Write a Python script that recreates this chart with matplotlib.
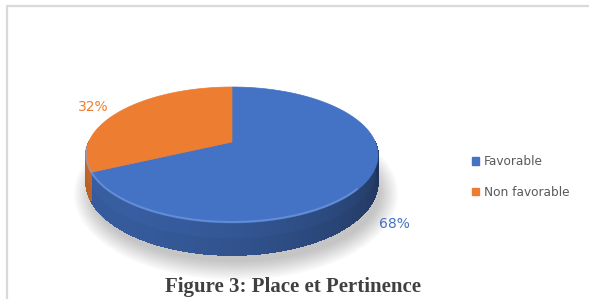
import numpy as np
import matplotlib.pyplot as plt
from matplotlib.patches import Polygon, Ellipse, Patch
from matplotlib.collections import PolyCollection
from matplotlib.colors import to_rgb

labels = ['Favorable', 'Non favorable']
values = [68, 32]
pct_labels = ['68%', '32%']
colors = ['#4472C4', '#ED7D31']

W, H = 589, 299
fig = plt.figure(figsize=(W / 100, H / 100), dpi=100)
ax = fig.add_axes([0, 0, 1, 1])
ax.set_xlim(0, W)
ax.set_ylim(H, 0)
ax.axis('off')

# light frame of the chart area (left and top edges only are visible)
ax.plot([7, 7, W + 5], [H + 5, 6, 6], color='#d9d9d9', lw=1.6, zorder=0)

# geometry of the tilted pie, in pixels
cx, cy = 232, 142        # projected centre of the pie
A, B, P = 143.3, 65.5, 0.191   # radii and perspective strength
T = 26                   # thickness


def proj(phi, dz=0.0):
    s = 1.0 / (1 + P * np.sin(phi))
    return cx + A * np.cos(phi) * s, cy - B * np.sin(phi) * s + dz * s


# soft shadow under the pie
for k in range(10):
    ax.add_patch(Ellipse((236, 194), 288 + 4 * k, 136 + 4 * k,
                         color='#000000', alpha=0.022, lw=0, zorder=1))

# slices start at 12 o'clock and run clockwise
frac = np.array(values) / sum(values)
edges = np.pi / 2 - 2 * np.pi * np.concatenate([[0], np.cumsum(frac)])


def shade(c, phi, v):
    f = 0.64 + 0.2 * np.cos(phi - np.radians(-140)) - 0.06 * v
    return tuple(np.clip(np.array(to_rgb(c)) * f, 0, 1))


# side wall (front half only), split in two bands for a vertical gradient
polys, cols = [], []
for i, c in enumerate(colors):
    a0, a1 = edges[i], edges[i + 1]
    lo, hi = max(min(a0, a1), -np.pi), min(max(a0, a1), 0)
    if lo >= hi:
        continue
    ph = np.linspace(lo, hi, 400)
    for p0, p1 in zip(ph[:-1], ph[1:]):
        for v0, v1 in [(0, 0.5), (0.5, 1.0)]:
            x0, y0 = proj(p0, T * v0)
            x1, y1 = proj(p1, T * v0)
            x2, y2 = proj(p1, T * v1)
            x3, y3 = proj(p0, T * v1)
            polys.append([(x0, y0), (x1, y1), (x2, y2), (x3, y3)])
            cols.append(shade(c, (p0 + p1) / 2, (v0 + v1) / 2))
ax.add_collection(PolyCollection(polys, facecolors=cols, edgecolors=cols,
                                 linewidths=0.4, antialiaseds=False, zorder=2))

# top face
for i, c in enumerate(colors):
    ph = np.linspace(edges[i], edges[i + 1], 300)
    xs, ys = proj(ph)
    pts = [(cx, cy)] + list(zip(xs, ys))
    ax.add_patch(Polygon(pts, closed=True, facecolor=c, edgecolor=c,
                         lw=0.5, zorder=3))

# highlight along the front rim
ph = np.linspace(np.radians(-175), np.radians(-40), 200)
xs, ys = proj(ph)
ax.plot(xs, ys - 1, color='#7ea3e6', lw=1.4, alpha=0.55, zorder=4)

# percentage labels
ax.text(93, 107, pct_labels[1], color=colors[1], fontsize=10,
        ha='center', va='center', zorder=5)
ax.text(394, 224, pct_labels[0], color=colors[0], fontsize=10,
        ha='center', va='center', zorder=5)

handles = [Patch(facecolor=c, edgecolor=c) for c in colors]
leg = ax.legend(handles, labels, loc='center left',
                bbox_to_anchor=(461 / W, 1 - 177 / H), frameon=False,
                handlelength=0.55, handleheight=0.55, handletextpad=0.45,
                labelspacing=1.45, prop={'family': 'DejaVu Sans', 'size': 8.7})
for t in leg.get_texts():
    t.set_color('#595959')

ax.text(293, 287, 'Figure 3: Place et Pertinence', family='Liberation Serif',
        weight='bold', fontsize=15, color='#404040', ha='center', va='center')

plt.savefig('out.png', dpi=100)
